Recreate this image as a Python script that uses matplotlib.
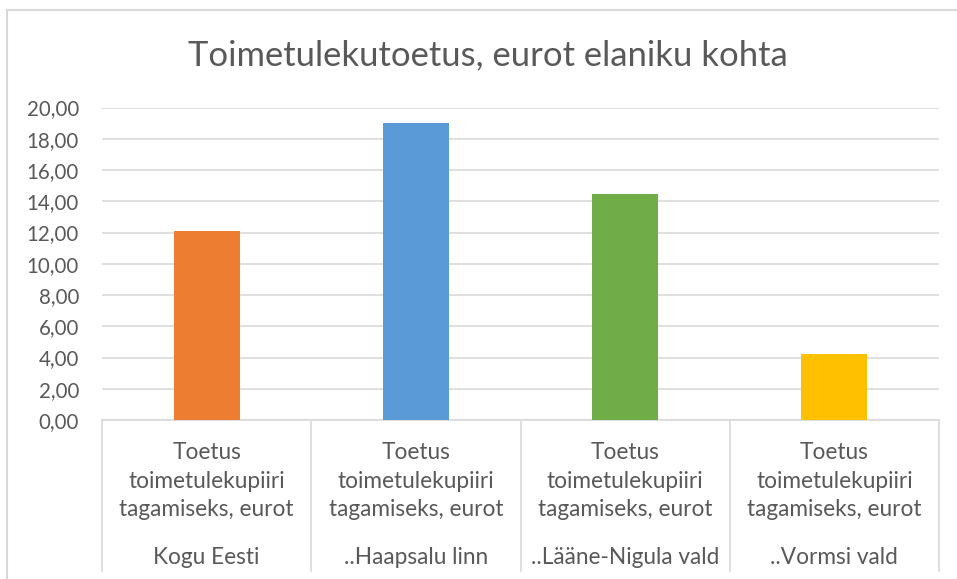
import matplotlib
matplotlib.use("Agg")
import matplotlib.pyplot as plt
from matplotlib.transforms import blended_transform_factory

plt.rcParams['font.family'] = ['Lato', 'DejaVu Sans']

# data
title = "Toimetulekutoetus, eurot elaniku kohta"
series_label = "Toetus\ntoimetulekupiiri\ntagamiseks, eurot"
regions = ["Kogu Eesti", "..Haapsalu linn", "..Lääne-Nigula vald", "..Vormsi vald"]
values = [12.12, 19.04, 14.49, 4.23]
colors = ["#ED7D31", "#5B9BD5", "#70AD47", "#FFC000"]
yticks = [0, 2, 4, 6, 8, 10, 12, 14, 16, 18, 20]

W, H = 957, 579
fig = plt.figure(figsize=(W / 100, H / 100), dpi=100)

# plot area in pixels: left 102, right 939, top 107.5, bottom 420
left, right, top, bottom = 102, 939, 107.5, 420
ax = fig.add_axes([left / W, 1 - bottom / H, (right - left) / W, (bottom - top) / H])

x = list(range(len(values)))
ax.bar(x, values, width=0.316, color=colors, zorder=3)
ax.set_xlim(-0.5, len(values) - 0.5)
ax.set_ylim(0, 20)
ax.set_yticks(yticks)
ax.set_yticklabels([f"{v:.2f}".replace(".", ",") for v in yticks], fontsize=14.8, color="#595959")
ax.tick_params(axis="y", length=0, pad=16.5)
ax.set_xticks([])
ax.yaxis.grid(True, color="#d9d9d9", linewidth=1.2, zorder=0)
for s in ["top", "right", "left"]:
    ax.spines[s].set_visible(False)
ax.spines["bottom"].set_color("#d9d9d9")
ax.spines["bottom"].set_linewidth(1.2)

# category boxes below the axis
tr = blended_transform_factory(ax.transData, ax.transAxes)
px = 1 / (bottom - top)
sep_bottom = -(571 - bottom) * px
for i in range(len(values) + 1):
    ax.plot([i - 0.5, i - 0.5], [0, sep_bottom], color="#d9d9d9", lw=1.2,
            transform=tr, clip_on=False)
for i, r in enumerate(regions):
    ax.text(i, -(481 - bottom) * px, series_label, transform=tr, ha="center", va="center",
            fontsize=16.3, color="#595959", linespacing=1.45)
    ax.text(i, -(557 - bottom) * px, r, transform=tr, ha="center", va="center",
            fontsize=16.3, color="#595959")

fig.text(488 / W, 1 - 55 / H, title, ha="center", va="center", fontsize=24.9, color="#595959")

# outer chart border (only top and left visible in the crop)
fig.add_artist(plt.Line2D([7.5 / W, 7.5 / W], [0, 1 - 9.5 / H], color="#d9d9d9", lw=1.5))
fig.add_artist(plt.Line2D([7.5 / W, 1], [1 - 9.5 / H, 1 - 9.5 / H], color="#d9d9d9", lw=1.5))

fig.savefig("out.png", dpi=100)
